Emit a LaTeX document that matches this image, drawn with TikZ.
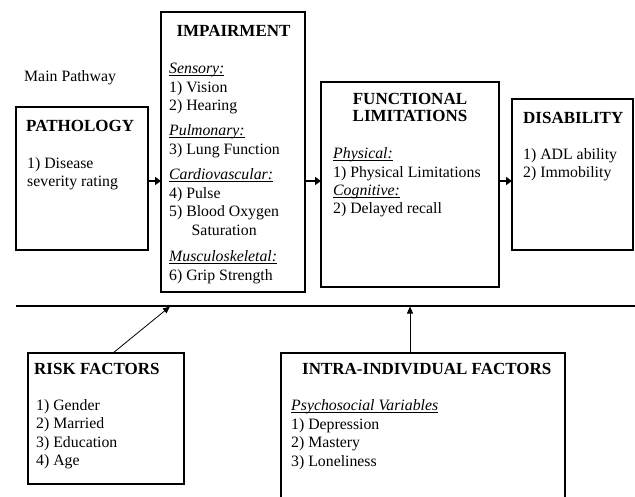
\documentclass[tikz,border=0pt]{standalone}
\usepackage{fontspec}
\setmainfont{Liberation Serif}
\usetikzlibrary{arrows.meta}
\newcommand{\myul}[1]{\setbox0\hbox{#1}\rlap{\rule[-2.4pt]{\wd0}{0.7pt}}\box0}
\begin{document}
\begin{tikzpicture}[x=1pt,y=-1pt,
  mainbox/.style={draw, line width=2.2pt, inner sep=0pt, outer sep=0pt, anchor=north west},
  sidebox/.style={draw, line width=1.3pt, inner sep=0pt, outer sep=0pt, anchor=north west},
  ttl/.style={font=\fontsize{17}{18}\selectfont\bfseries, inner sep=0pt, anchor=base},
  ttlw/.style={font=\fontsize{17}{18}\selectfont\bfseries, inner sep=0pt, anchor=base west},
  txt/.style={font=\fontsize{15.8}{18}\selectfont, inner sep=0pt, anchor=base west},
  hdr/.style={font=\fontsize{15.8}{18}\selectfont\itshape, inner sep=0pt, anchor=base west},
  mainarrow/.style={line width=2pt, -{Triangle[length=6pt,width=8pt]}},
  thinarrow/.style={line width=0.8pt, -{Triangle[length=7pt,width=6pt]}},
  divline/.style={line width=1.5pt}]
\useasboundingbox (0,0) rectangle (635,496);
\clip (0,0) rectangle (635,496);

% boxes
\node[mainbox, minimum width=132pt, minimum height=143pt] (path) at (16,107) {};
\node[mainbox, minimum width=144pt, minimum height=280pt] (imp) at (161,12) {};
\node[mainbox, minimum width=178pt, minimum height=205pt] (fl) at (321,82) {};
\node[mainbox, minimum width=121pt, minimum height=151pt] (dis) at (512,99) {};
\node[sidebox, minimum width=156pt, minimum height=131pt] (risk) at (28,353) {};
\node[sidebox, minimum width=284pt, minimum height=170pt] (intra) at (281,353) {};

% texts
\node[txt] (mp) at (24,81) {Main Pathway};

\node[ttlw] (pathT) at (26,131) {PATHOLOGY};
\node[txt] (path1) at (27,168) {1) Disease};
\node[txt] (path2) at (27,186) {severity rating};

\node[ttl] (impT) at (233.5,36) {IMPAIRMENT};
\node[hdr] (impH1) at (169,73) {\myul{Sensory:}};
\node[txt] (imp1) at (169,92) {1) Vision};
\node[txt] (imp2) at (169,110) {2) Hearing};
\node[hdr] (impH2) at (169,135) {\myul{Pulmonary:}};
\node[txt] (imp3) at (169,154) {3) Lung Function};
\node[hdr] (impH3) at (169,179) {\myul{Cardiovascular:}};
\node[txt] (imp4) at (169,198) {4) Pulse};
\node[txt] (imp5) at (169,216) {5) Blood Oxygen};
\node[txt] (imp5b) at (191.5,235) {Saturation};
\node[hdr] (impH4) at (169,261) {\myul{Musculoskeletal:}};
\node[txt] (imp6) at (169,280) {6) Grip Strength};

\node[ttl, font=\fontsize{17}{16.5}\selectfont\bfseries, align=center, anchor=north] (flT) at (410,93.5) {FUNCTIONAL\\LIMITATIONS};
\node[hdr] (flH1) at (333,158) {\myul{Physical:}};
\node[txt] (fl1) at (333,177) {1) Physical Limitations};
\node[hdr] (flH2) at (333,195) {\myul{Cognitive:}};
\node[txt] (fl2) at (333,213) {2) Delayed recall};

\node[ttlw] (disT) at (523,123) {DISABILITY};
\node[txt] (dis1) at (523,159) {1) ADL ability};
\node[txt] (dis2) at (523,177) {2) Immobility};

\node[ttlw] (riskT) at (34,374) {RISK FACTORS};
\node[txt] (risk1) at (36,410) {1) Gender};
\node[txt] (risk2) at (36,428.5) {2) Married};
\node[txt] (risk3) at (36,447) {3) Education};
\node[txt] (risk4) at (36,465.5) {4) Age};

\node[ttlw] (intraT) at (302,374) {INTRA-INDIVIDUAL FACTORS};
\node[hdr] (intraH) at (291,410) {\myul{Psychosocial Variables}};
\node[txt] (intra1) at (291,429) {1) Depression};
\node[txt] (intra2) at (291,447.5) {2) Mastery};
\node[txt] (intra3) at (291,466) {3) Loneliness};

% divider line
\coordinate (hlL) at (16,306);
\coordinate (hlR) at (635,306);
\draw[divline] (hlL) -- (hlR);

% main arrows
\coordinate (ay) at (0,181);
\draw[mainarrow] (path.east |- ay) -- (imp.west |- ay);
\draw[mainarrow] (imp.east |- ay) -- (fl.west |- ay);
\draw[mainarrow] (fl.east |- ay) -- (dis.west |- ay);

% lower arrows
\coordinate (rs) at (113,353);
\coordinate (re) at (170,306.5);
\draw[thinarrow] (rs) -- (re);
\coordinate (is) at (410,353);
\coordinate (ie) at (410,306.5);
\draw[thinarrow] (is) -- (ie);
\end{tikzpicture}
\end{document}
